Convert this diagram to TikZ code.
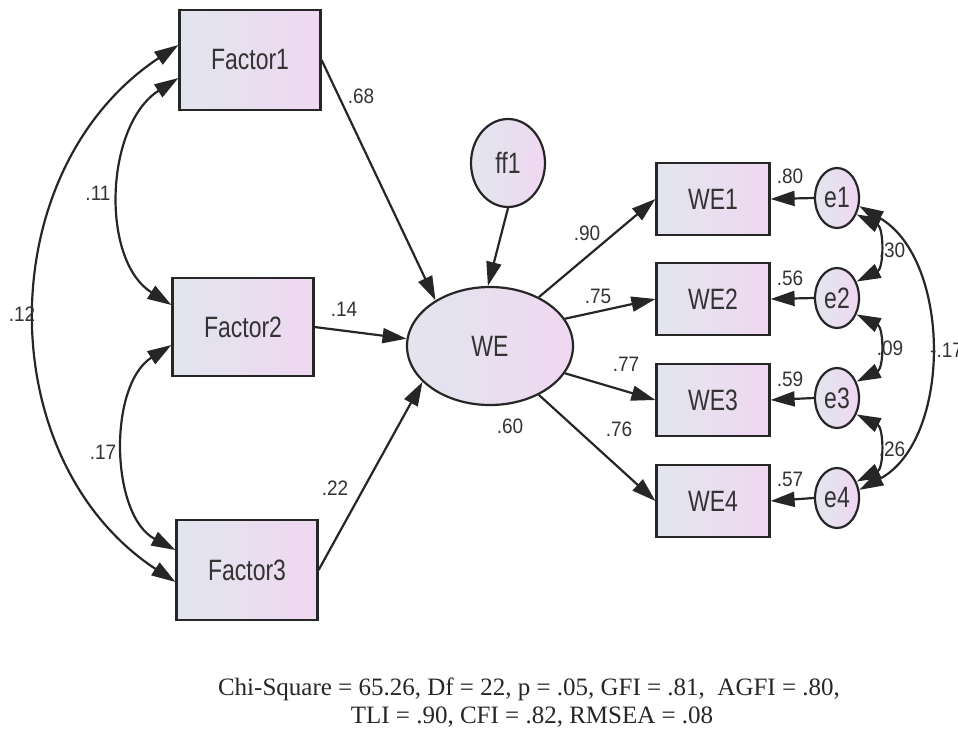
\documentclass[tikz,border=0pt]{standalone}
\usepackage{fontspec}
\usepackage{graphicx}
\setmainfont{Liberation Serif}
\newfontfamily\arialf{Liberation Sans}
\usetikzlibrary{arrows.meta,shapes.geometric}
\definecolor{lc}{HTML}{262626}
\definecolor{fl}{HTML}{E2E5EE}
\definecolor{fr}{HTML}{EFD8F1}
\definecolor{tc}{HTML}{333333}
\newcommand{\tallT}[1]{\scalebox{1}[1.28]{#1}}
\newcommand{\tallL}[1]{\scalebox{1}[1.1]{#1}}
\begin{document}
\begin{tikzpicture}[x=1pt,y=-1pt,
  box/.style={draw=lc, line width=2.2pt, left color=fl, right color=fr, inner sep=0pt,
    font=\arialf\fontsize{23}{23}\selectfont, text=tc},
  fbox/.style={box, minimum width=141pt, minimum height=100pt},
  wbox/.style={box, minimum width=113pt, minimum height=72pt},
  oval/.style={box, ellipse},
  lab/.style={font=\arialf\fontsize{19}{19}\selectfont, text=tc, inner sep=0pt},
  arr/.style={draw=lc, line width=2.2pt, -{Triangle[length=24pt,width=15pt]}},
  cov/.style={draw=lc, line width=2.2pt, {Triangle[length=24pt,width=15pt]}-{Triangle[length=24pt,width=15pt]}},
  fit/.style={font=\fontsize{25}{25}\selectfont, text=black!85, inner sep=0pt, anchor=base}
]
\useasboundingbox (0,0) rectangle (958,731);

% nodes
\node[fbox] (f1) at (250,60) {\tallT{Factor1}};
\node[fbox, minimum height=98pt] (f2) at (243,327) {\tallT{Factor2}};
\node[fbox] (f3) at (247,570) {\tallT{Factor3}};
\node[oval, minimum width=74pt, minimum height=88pt] (ff1) at (508,163) {\tallT{ff1}};
\node[oval, minimum width=166pt, minimum height=118pt] (we) at (490,346) {\tallT{WE}};
\node[wbox] (w1) at (713,199) {\tallT{WE1}};
\node[wbox] (w2) at (713,299) {\tallT{WE2}};
\node[wbox] (w3) at (713,400) {\tallT{WE3}};
\node[wbox] (w4) at (713,501) {\tallT{WE4}};
\node[oval, minimum width=44pt, minimum height=60pt] (e1) at (837,198) {\tallT{e1}};
\node[oval, minimum width=44pt, minimum height=60pt] (e2) at (837,298) {\tallT{e2}};
\node[oval, minimum width=44pt, minimum height=60pt] (e3) at (837,398) {\tallT{e3}};
\node[oval, minimum width=44pt, minimum height=60pt] (e4) at (837,498) {\tallT{e4}};

% regression paths
\draw[arr] (f1.east) -- (we.140);
\draw[arr] (f2.east) -- (we.175);
\draw[arr] (f3.east) -- (we.208);
\draw[arr] (ff1.south) -- (we.92);
\draw[arr] (we.45) -- (w1.west);
\draw[arr] (we.20) -- (w2.west);
\draw[arr] (we.-20) -- (w3.west);
\draw[arr] (we.-45) -- (w4.west);
\draw[arr] (e1.west) -- (w1.east);
\draw[arr] (e2.west) -- (w2.east);
\draw[arr] (e3.west) -- (w3.east);
\draw[arr] (e4.west) -- (w4.east);

% covariances left
\coordinate (f1a) at ([yshift=-18pt]f1.west);
\coordinate (f1b) at ([yshift=15pt]f1.west);
\coordinate (f2a) at ([yshift=22pt]f2.west);
\coordinate (f2b) at ([yshift=-18pt]f2.west);
\coordinate (f3a) at ([yshift=20pt]f3.west);
\coordinate (f3b) at ([yshift=-12pt]f3.west);
\draw[cov] (f1a) .. controls (105,125) and (100,260) .. (f2a);
\draw[cov] (f2b) .. controls (108,385) and (110,515) .. (f3a);
\draw[cov] (f1b) .. controls (-10,170) and (-10,460) .. (f3b);

% covariances right
\draw[cov] (e1.-40) .. controls (884,228) and (884,268) .. (e2.40);
\draw[cov] (e2.-40) .. controls (884,328) and (884,368) .. (e3.40);
\draw[cov] (e3.-40) .. controls (884,428) and (884,468) .. (e4.40);
\draw[cov] (e1.-20) .. controls (952,260) and (952,440) .. (e4.20);

% labels
\node[lab] (l68) at (361,96) {\tallL{.68}};
\node[lab] (l11) at (98,193) {\tallL{.11}};
\node[lab] (l12) at (22,314) {\tallL{.12}};
\node[lab] (l14) at (344,309) {\tallL{.14}};
\node[lab] (l17) at (103,452) {\tallL{.17}};
\node[lab] (l22) at (335,488) {\tallL{.22}};
\node[lab] (l90) at (587,233) {\tallL{.90}};
\node[lab] (l75) at (598,296) {\tallL{.75}};
\node[lab] (l77) at (626,364) {\tallL{.77}};
\node[lab] (l60) at (510,426) {\tallL{.60}};
\node[lab] (l76) at (619,429) {\tallL{.76}};
\node[lab] (l80) at (790,176) {\tallL{.80}};
\node[lab] (l56) at (790,278) {\tallL{.56}};
\node[lab] (l59) at (790,379) {\tallL{.59}};
\node[lab] (l57) at (790,479) {\tallL{.57}};
\node[lab] (l30) at (892,250) {\tallL{.30}};
\node[lab] (l09) at (890,348) {\tallL{.09}};
\node[lab] (l26) at (892,449) {\tallL{.26}};
\node[lab, anchor=west] (l17n) at (930,350) {\tallL{-.17}};

% fit statistics
\node[fit] (fit1) at (529,695) {Chi-Square = 65.26, Df = 22, p = .05, GFI = .81,\ \ AGFI = .80,};
\node[fit] (fit2) at (532,723) {TLI = .90, CFI = .82, RMSEA = .08};
\end{tikzpicture}
\end{document}
